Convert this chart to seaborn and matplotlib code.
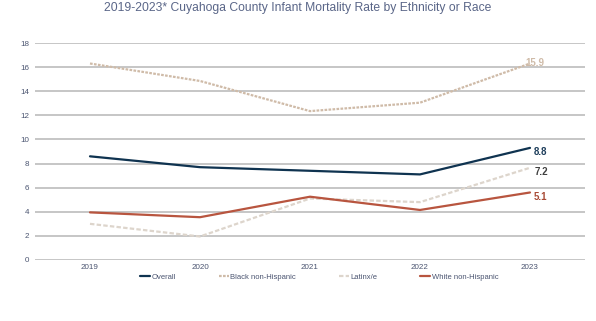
import matplotlib
matplotlib.use("Agg")
import matplotlib.pyplot as plt
import seaborn as sns
import pandas as pd

years = ["2019", "2020", "2021", "2022", "2023"]
overall = [8.6, 7.7, 7.4, 7.1, 9.3]
black = [16.3, 14.85, 12.35, 13.05, 16.3]
latinx = [3.0, 1.95, 5.1, 4.8, 7.65]
white = [3.95, 3.55, 5.25, 4.15, 5.6]
series_names = ["Overall", "Black non-Hispanic", "Latinx/e", "White non-Hispanic"]
end_labels = ["8.8", "15.9", "7.2", "5.1"]
y_ticks = [0, 2, 4, 6, 8, 10, 12, 14, 16, 18]

df = pd.DataFrame({
    "year": years * 4,
    "value": overall + black + latinx + white,
    "series": sum([[s] * len(years) for s in series_names], []),
})

sns.set_theme(style="white")
plt.rcParams["font.family"] = ["Liberation Sans", "DejaVu Sans"]

colors = {"Overall": "#0f3350", "Black non-Hispanic": "#cfbba8",
          "Latinx/e": "#ddd5cc", "White non-Hispanic": "#b8553f"}
label_colors = ["#1f3f5c", "#cfbba8", "#404040", "#a84a35"]
label_offsets = [(3, -3), (-3, 0), (3, -3), (3, -3)]
dashes = {"Overall": "", "Black non-Hispanic": (1.2, 0.6),
          "Latinx/e": (2, 1), "White non-Hispanic": ""}

fig = plt.figure(figsize=(5.96, 3.21), dpi=100)
ax = fig.add_axes([35/596, (321-260)/321, 550/596, (260-43)/321])

sns.lineplot(data=df, x="year", y="value", hue="series", style="series",
             palette=colors, dashes=dashes, linewidth=1.6, ax=ax,
             legend=True, sort=False)

ax.set_xlim(-0.5, 4.5)
ax.set_ylim(0, 18)
ax.set_yticks(y_ticks)
ax.yaxis.grid(True, color="#c6c6c6", linewidth=1.4)
ax.set_axisbelow(True)
for sp in ax.spines.values():
    sp.set_visible(False)
ax.tick_params(axis="both", length=0, labelsize=5.8, labelcolor="#4a5470")
ax.tick_params(axis="y", pad=4)
ax.tick_params(axis="x", pad=3)
ax.set_xlabel("")
ax.set_ylabel("")

vals = [overall, black, latinx, white]
for v, lab, c, off in zip(vals, end_labels, label_colors, label_offsets):
    ax.annotate(lab, (4, v[-1]), xytext=off, textcoords="offset points",
                fontsize=7, fontweight="bold", color=c, va="center", ha="left")

handles, labels = ax.get_legend_handles_labels()
leg = ax.legend(handles, labels, loc="upper center", bbox_to_anchor=(0.517, -0.03),
                ncol=4, frameon=False, fontsize=5.5, handlelength=1.3,
                handletextpad=0.2, columnspacing=5.6, labelcolor="#4a5470")

fig.text(298/596, 1 - 8/321,
         "2019-2023* Cuyahoga County Infant Mortality Rate by Ethnicity or Race",
         ha="center", va="center", fontsize=8.7, color="#5a6688")

fig.savefig("out.png", dpi=100)
